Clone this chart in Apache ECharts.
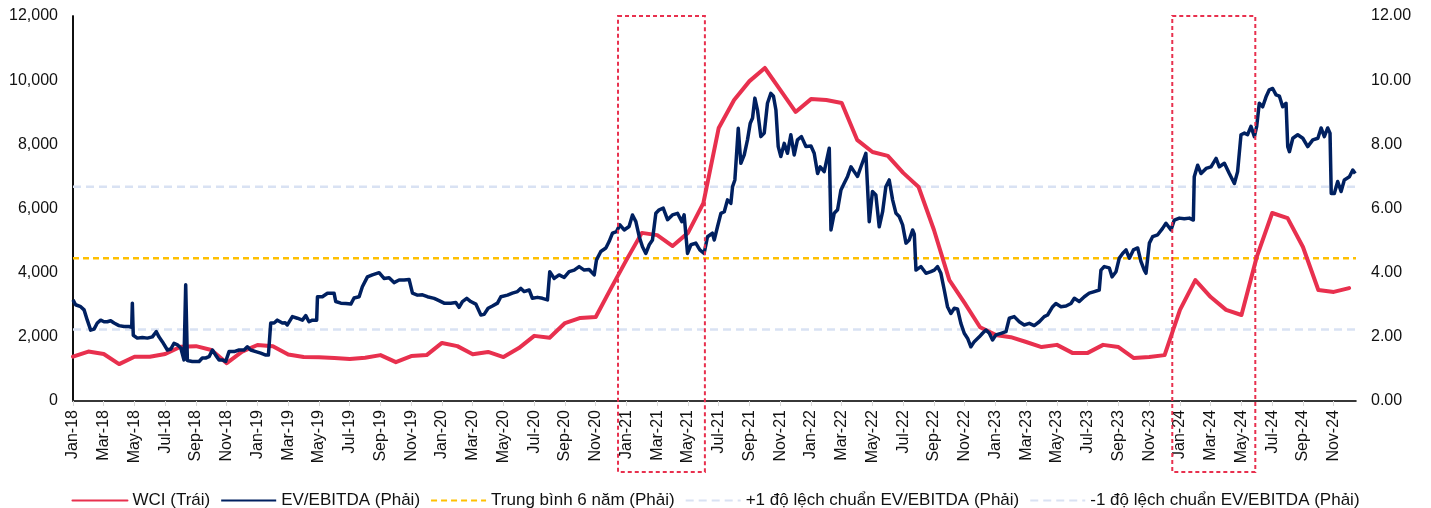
<!DOCTYPE html>
<html>
<head>
<meta charset="utf-8">
<script src="https://cdn.jsdelivr.net/npm/echarts@6/dist/echarts.min.js"></script>
<style>
    html, body { margin: 0; padding: 0; background: #fff; }
    #chart { width: 1431px; height: 508px; }
</style>
</head>
<body>
<div id="chart"></div>
<script>
// nhãn trục X (mỗi 2 tháng, tính từ Jan-18)
const tickLabels = [
    'Jan-18', 'Mar-18', 'May-18', 'Jul-18', 'Sep-18', 'Nov-18',
    'Jan-19', 'Mar-19', 'May-19', 'Jul-19', 'Sep-19', 'Nov-19',
    'Jan-20', 'Mar-20', 'May-20', 'Jul-20', 'Sep-20', 'Nov-20',
    'Jan-21', 'Mar-21', 'May-21', 'Jul-21', 'Sep-21', 'Nov-21',
    'Jan-22', 'Mar-22', 'May-22', 'Jul-22', 'Sep-22', 'Nov-22',
    'Jan-23', 'Mar-23', 'May-23', 'Jul-23', 'Sep-23', 'Nov-23',
    'Jan-24', 'Mar-24', 'May-24', 'Jul-24', 'Sep-24', 'Nov-24'
];

// WCI theo tháng, Jan-18 .. Dec-24 (trục trái)
const wciValues = [
    1380, 1540, 1465, 1150, 1380, 1380, 1465, 1690, 1710, 1590, 1180, 1540,
    1745, 1710, 1450, 1370, 1360, 1340, 1310, 1350, 1430, 1210, 1400, 1430,
    1810, 1710, 1460, 1530, 1370, 1650, 2030, 1970, 2430, 2590, 2620, 3520,
    4400, 5240, 5170, 4830, 5240, 6170, 8510, 9380, 9970, 10380, 9700, 9010,
    9410, 9380, 9290, 8140, 7760, 7640, 7110, 6670, 5330, 3770, 3050, 2300,
    2060, 1990, 1840, 1680, 1750, 1500, 1500, 1750, 1680, 1340, 1370, 1430,
    2840, 3770, 3240, 2840, 2680, 4500, 5860, 5700, 4800, 3460, 3400, 3520
];

// EV/EBITDA: [số tháng kể từ Jan-18, giá trị] (trục phải)
const evEbitda = [
    [0.00, 3.15], [0.17, 3.00], [0.50, 2.94], [0.72, 2.84], [0.93, 2.52], [1.15, 2.21], [1.37, 2.24],
    [1.58, 2.43], [1.80, 2.52], [2.02, 2.47], [2.23, 2.47], [2.45, 2.50], [2.67, 2.43], [2.99, 2.35],
    [3.32, 2.32], [3.64, 2.32], [3.82, 2.30], [3.86, 3.05], [3.92, 2.05], [4.18, 1.96], [4.51, 1.98],
    [4.84, 1.96], [5.16, 2.00], [5.42, 2.16], [5.59, 2.00], [5.81, 1.85], [6.14, 1.59], [6.36, 1.62],
    [6.57, 1.80], [6.79, 1.75], [7.01, 1.65], [7.22, 1.28], [7.33, 3.62], [7.44, 1.26], [7.76, 1.23],
    [8.20, 1.23], [8.41, 1.34], [8.63, 1.34], [8.85, 1.38], [9.07, 1.59], [9.28, 1.43], [9.50, 1.28],
    [9.71, 1.28], [9.93, 1.23], [10.15, 1.54], [10.48, 1.54], [10.80, 1.59], [11.13, 1.59], [11.34, 1.69],
    [11.56, 1.59], [11.89, 1.54], [12.21, 1.49], [12.54, 1.43], [12.71, 1.43], [12.86, 2.43], [13.08, 2.43],
    [13.29, 2.52], [13.62, 2.43], [13.80, 2.44], [13.94, 2.37], [14.27, 2.63], [14.59, 2.58], [14.92, 2.52],
    [15.14, 2.66], [15.35, 2.47], [15.57, 2.52], [15.85, 2.52], [15.90, 3.25], [16.22, 3.25], [16.55, 3.36],
    [16.98, 3.36], [17.09, 3.10], [17.42, 3.05], [17.74, 3.04], [18.07, 3.02], [18.28, 3.21], [18.61, 3.25],
    [18.82, 3.56], [19.15, 3.87], [19.47, 3.93], [19.91, 4.00], [20.23, 3.82], [20.56, 3.84], [20.88, 3.69],
    [21.21, 3.77], [21.54, 3.77], [21.86, 3.79], [22.08, 3.36], [22.40, 3.30], [22.73, 3.31], [23.05, 3.25],
    [23.49, 3.20], [23.81, 3.13], [24.14, 3.05], [24.57, 3.05], [24.90, 3.07], [25.11, 2.92], [25.33, 3.10],
    [25.61, 3.20], [25.87, 3.10], [26.20, 3.02], [26.53, 2.68], [26.74, 2.70], [27.00, 2.89], [27.28, 2.96],
    [27.61, 3.05], [27.83, 3.25], [28.26, 3.30], [28.58, 3.36], [28.91, 3.41], [29.13, 3.51], [29.34, 3.41],
    [29.67, 3.46], [29.88, 3.20], [30.21, 3.23], [30.53, 3.20], [30.86, 3.15], [31.01, 4.03], [31.30, 3.82],
    [31.62, 3.93], [31.95, 3.85], [32.27, 4.03], [32.60, 4.08], [32.92, 4.19], [33.25, 4.08], [33.57, 4.10],
    [33.90, 3.93], [34.05, 4.40], [34.33, 4.66], [34.66, 4.77], [34.87, 4.97], [35.09, 5.23], [35.35, 5.28],
    [35.57, 5.49], [35.85, 5.33], [36.17, 5.44], [36.39, 5.80], [36.61, 5.59], [36.83, 5.12], [37.04, 4.81],
    [37.26, 4.60], [37.48, 4.87], [37.69, 5.02], [37.91, 5.85], [38.13, 5.96], [38.39, 6.01], [38.67, 5.65],
    [38.99, 5.80], [39.32, 5.85], [39.60, 5.59], [39.75, 5.80], [39.97, 4.60], [40.19, 4.87], [40.51, 4.92],
    [40.77, 4.71], [41.05, 4.60], [41.27, 5.12], [41.59, 5.23], [41.71, 5.02], [41.92, 5.43], [42.14, 5.85],
    [42.36, 5.90], [42.57, 6.27], [42.79, 6.16], [42.90, 6.68], [43.05, 6.89], [43.27, 8.50], [43.44, 7.41],
    [43.66, 7.67], [43.87, 8.14], [44.05, 8.66], [44.20, 8.82], [44.35, 9.44], [44.52, 9.07], [44.74, 8.24],
    [44.96, 8.35], [45.17, 9.28], [45.39, 9.59], [45.56, 9.50], [45.72, 9.07], [45.87, 7.93], [46.04, 7.62],
    [46.26, 8.03], [46.47, 7.72], [46.69, 8.30], [46.91, 7.67], [47.12, 8.14], [47.38, 8.24], [47.67, 7.93],
    [48.00, 7.95], [48.21, 7.72], [48.43, 7.09], [48.60, 7.30], [48.86, 7.15], [49.19, 7.88], [49.30, 5.33],
    [49.51, 5.85], [49.73, 5.96], [49.95, 6.58], [50.16, 6.79], [50.38, 7.00], [50.60, 7.30], [50.81, 7.15],
    [51.03, 7.00], [51.25, 7.30], [51.57, 7.72], [51.79, 5.59], [52.00, 6.53], [52.22, 6.42], [52.44, 5.43],
    [52.66, 5.90], [52.87, 6.68], [53.09, 6.89], [53.31, 6.27], [53.53, 5.85], [53.74, 5.75], [53.96, 5.49],
    [54.18, 4.92], [54.39, 5.02], [54.61, 5.33], [54.72, 5.20], [54.83, 4.08], [55.15, 4.19], [55.48, 3.98],
    [55.80, 4.03], [56.02, 4.08], [56.23, 4.19], [56.45, 3.98], [56.67, 3.46], [56.88, 2.94], [57.10, 2.73],
    [57.32, 2.89], [57.53, 2.87], [57.75, 2.42], [57.97, 2.11], [58.19, 1.95], [58.40, 1.69], [58.62, 1.85],
    [58.95, 2.00], [59.16, 2.11], [59.38, 2.21], [59.60, 2.11], [59.81, 1.90], [60.03, 2.06], [60.36, 2.11],
    [60.68, 2.16], [60.90, 2.58], [61.22, 2.63], [61.55, 2.47], [61.87, 2.37], [62.20, 2.42], [62.52, 2.35],
    [62.85, 2.47], [63.17, 2.63], [63.39, 2.68], [63.72, 2.94], [63.93, 3.04], [64.26, 2.94], [64.59, 2.96],
    [64.91, 3.04], [65.13, 3.20], [65.45, 3.10], [65.78, 3.25], [66.10, 3.36], [66.43, 3.41], [66.75, 3.46],
    [66.86, 4.08], [67.08, 4.19], [67.40, 4.15], [67.58, 3.87], [67.84, 4.03], [68.05, 4.45], [68.27, 4.60],
    [68.49, 4.71], [68.71, 4.45], [68.97, 4.71], [69.25, 4.77], [69.46, 4.35], [69.68, 4.08], [69.79, 3.98],
    [70.01, 4.92], [70.22, 5.12], [70.55, 5.18], [70.87, 5.38], [71.09, 5.54], [71.42, 5.33], [71.63, 5.64],
    [71.96, 5.70], [72.28, 5.68], [72.61, 5.70], [72.87, 5.64], [72.93, 6.99], [73.15, 7.35], [73.37, 7.09],
    [73.70, 7.25], [74.02, 7.30], [74.35, 7.56], [74.56, 7.30], [74.89, 7.41], [75.21, 7.09], [75.54, 6.78],
    [75.75, 7.15], [75.97, 8.30], [76.19, 8.35], [76.40, 8.30], [76.62, 8.56], [76.84, 8.24], [76.99, 8.56],
    [77.16, 9.28], [77.38, 9.17], [77.60, 9.48], [77.81, 9.70], [78.03, 9.74], [78.25, 9.54], [78.47, 9.50],
    [78.68, 9.17], [78.90, 9.28], [79.01, 7.93], [79.12, 7.77], [79.34, 8.19], [79.66, 8.30], [79.99, 8.19],
    [80.31, 7.93], [80.64, 8.14], [80.97, 8.19], [81.18, 8.51], [81.39, 8.24], [81.61, 8.51], [81.76, 8.35],
    [81.84, 6.47], [82.04, 6.47], [82.26, 6.84], [82.48, 6.53], [82.69, 6.89], [83.02, 6.99], [83.24, 7.20],
    [83.40, 7.09]
];

const avg6y = 4.45;      // Trung bình 6 năm
const plus1sd = 6.68;    // +1 độ lệch chuẩn
const minus1sd = 2.23;   // -1 độ lệch chuẩn

// vùng đánh dấu (khung đỏ nét đứt), theo số tháng
const highlightRanges = [[35.45, 41.1], [71.5, 76.9]];

const xMax = 83.45;

const RED = '#E8304E';
const NAVY = '#002060';
const YELLOW = '#FFC000';
const LIGHTBLUE = '#D9E2F3';
const FONT = '"Liberation Sans", Arial, sans-serif';

const chart = echarts.init(document.getElementById('chart'));

function refLine(name, value, color, dash) {
    return {
        name: name,
        type: 'line',
        xAxisIndex: 0,
        yAxisIndex: 1,
        symbol: 'none',
        silent: true,
        z: 1,
        lineStyle: { color: color, width: 2.5, type: dash },
        itemStyle: { color: color },
        data: [[0, value], [xMax, value]]
    };
}

const option = {
    animation: false,
    textStyle: { fontFamily: FONT },
    grid: { left: 73, right: 75, top: 16, bottom: 107 },
    legend: {
        left: 'center',
        top: 487,
        itemWidth: 55,
        itemHeight: 14,
        itemGap: 10,
        itemStyle: { opacity: 0 },
        textStyle: { fontSize: 17, color: '#111', fontFamily: FONT },
        data: [
            'WCI (Trái)',
            'EV/EBITDA (Phải)',
            'Trung bình 6 năm (Phải)',
            '+1 độ lệch chuẩn EV/EBITDA (Phải)',
            '-1 độ lệch chuẩn EV/EBITDA (Phải)'
        ]
    },
    xAxis: [{
        type: 'value',
        min: 0,
        max: xMax,
        interval: 2,
        axisLine: { show: true, lineStyle: { color: '#d9d9d9', width: 1.5 } },
        axisTick: { show: true, length: 5, lineStyle: { color: '#d9d9d9' } },
        splitLine: { show: false },
        axisLabel: {
            rotate: 90,
            fontSize: 16,
            color: '#111',
            margin: 9,
            showMaxLabel: false,
            formatter: function (val) {
                const i = Math.round(val / 2);
                return Math.abs(val - i * 2) < 1e-6 ? (tickLabels[i] || '') : '';
            }
        }
    }, {
        type: 'value',
        position: 'top',
        min: 0,
        max: xMax,
        axisLine: { show: true, lineStyle: { color: '#000', width: 1.5 } },
        axisTick: { show: false },
        axisLabel: { show: false },
        splitLine: { show: false }
    }],
    yAxis: [{
        type: 'value',
        min: 0,
        max: 12000,
        interval: 2000,
        axisLine: { show: true, lineStyle: { color: '#000', width: 1.5 } },
        axisTick: { show: false },
        splitLine: { show: false },
        axisLabel: {
            fontSize: 16,
            color: '#111',
            margin: 15,
            formatter: function (v) { return v.toLocaleString('en-US'); }
        }
    }, {
        type: 'value',
        min: 0,
        max: 12,
        interval: 2,
        axisLine: { show: true, lineStyle: { color: '#000', width: 1.5 } },
        axisTick: { show: false },
        splitLine: { show: false },
        axisLabel: {
            fontSize: 16,
            color: '#111',
            margin: 15,
            formatter: function (v) { return v.toFixed(2); }
        }
    }],
    series: [
        {
            name: 'WCI (Trái)',
            type: 'line',
            xAxisIndex: 0,
            yAxisIndex: 0,
            symbol: 'none',
            z: 3,
            lineStyle: { color: RED, width: 4, cap: 'round', join: 'round' },
            itemStyle: { color: RED },
            data: wciValues.map((v, i) => [i, v])
        },
        {
            name: 'EV/EBITDA (Phải)',
            type: 'line',
            xAxisIndex: 0,
            yAxisIndex: 1,
            symbol: 'none',
            z: 4,
            lineStyle: { color: NAVY, width: 3.5, join: 'round' },
            itemStyle: { color: NAVY },
            data: evEbitda
        },
        refLine('Trung bình 6 năm (Phải)', avg6y, YELLOW, [6, 4]),
        refLine('+1 độ lệch chuẩn EV/EBITDA (Phải)', plus1sd, LIGHTBLUE, [8, 5]),
        refLine('-1 độ lệch chuẩn EV/EBITDA (Phải)', minus1sd, LIGHTBLUE, [8, 5])
    ]
};

chart.setOption(option);

// khung đỏ nét đứt, kéo xuống qua nhãn trục X
const boxDrop = 71;
const yTop = chart.convertToPixel({ yAxisIndex: 1 }, 12);
const yBottom = chart.convertToPixel({ yAxisIndex: 1 }, 0) + boxDrop;
chart.setOption({
    graphic: highlightRanges.map(function (r) {
        const x0 = chart.convertToPixel({ xAxisIndex: 0 }, r[0]);
        const x1 = chart.convertToPixel({ xAxisIndex: 0 }, r[1]);
        return {
            type: 'rect',
            z: 100,
            silent: true,
            shape: { x: x0, y: yTop, width: x1 - x0, height: yBottom - yTop },
            style: { fill: 'none', stroke: RED, lineWidth: 2, lineDash: [4, 3] }
        };
    })
});
</script>
</body>
</html>
